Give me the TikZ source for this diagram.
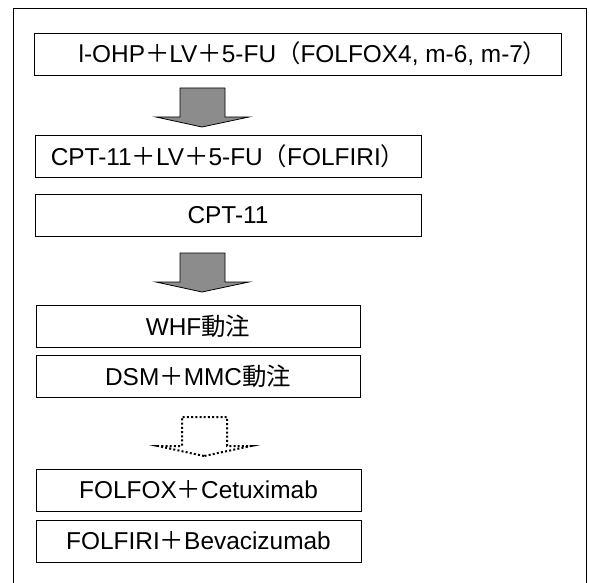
\documentclass[tikz,border=0pt]{standalone}
\usepackage{fontspec}
\setmainfont{Liberation Sans}
\newfontfamily\jp{Noto Sans CJK JP}

\tikzset{
  regimen/.style={draw, line width=0.9bp, minimum height=42bp, inner sep=0pt, font=\fontsize{24.5}{28}\selectfont},
  solidarrow/.style={draw, line width=0.8bp, fill=black!45},
  dotarrow/.style={draw, line width=2bp, dash pattern=on 2bp off 2.2bp},
  pics/downarrow/.style={code={
    \path[#1] (0,0) -- (-46,-10) -- (-22,-10) -- (-22,-39) -- (23,-39) -- (23,-10) -- (47,-10) -- cycle;
  }}
}

\begin{document}
\begin{tikzpicture}[x=1bp, y=-1bp]
      \useasboundingbox (0,0) rectangle (589,583);

      % Frame
      \draw[line width=0.9bp] (13,583) -- (13,8) -- (586,8) -- (586,583);

      % Nodes
      \node[regimen, minimum width=527bp] (OHP) at (297.5,54) {\hspace*{31bp}l-OHP{\jp ＋}LV{\jp ＋}5-FU{\jp （}FOLFOX4, m-6, m-7{\jp ）}};
      \node[regimen, minimum width=386bp] (FIRI) at (228,156) {CPT-11{\jp ＋}LV{\jp ＋}5-FU{\jp （}FOLFIRI{\jp ）}};
      \node[regimen, minimum width=386bp] (CPT) at (228,215) {CPT-11};
      \node[regimen, minimum width=324bp] (WHF) at (198,326) {WHF{\jp 動注}};
      \node[regimen, minimum width=324bp] (DSM) at (198,376) {DSM{\jp ＋}MMC{\jp 動注}};
      \node[regimen, minimum width=325bp] (CET) at (198.5,490) {FOLFOX{\jp ＋}Cetuximab};
      \node[regimen, minimum width=325bp] (BEV) at (198.5,541) {FOLFIRI{\jp ＋}Bevacizumab};

      % Arrows
      \pic at (202,127) {downarrow=solidarrow};
      \pic at (202,292) {downarrow=solidarrow};
      \pic at (204,456) {downarrow=dotarrow};
\end{tikzpicture}
\end{document}
